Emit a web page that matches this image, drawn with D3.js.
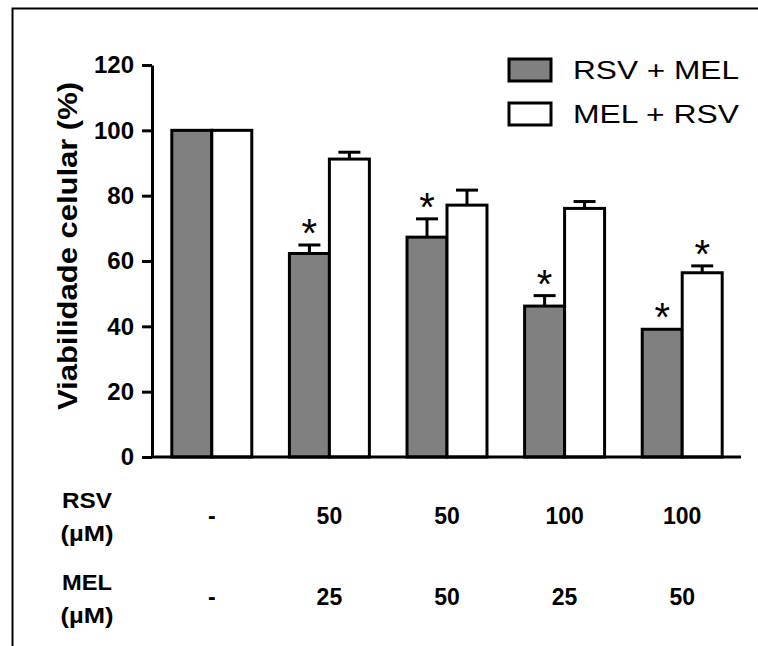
<!DOCTYPE html>
<html lang="pt">
<head>
	<meta charset="utf-8">
	<title>Viabilidade celular</title>
	<script src="https://cdn.jsdelivr.net/npm/d3@7"></script>
	<style>
		body { margin: 0; background: #fff; }
		svg { display: block; }
	</style>
</head>
<body>
<script>

// Chart data
var categories = ["ctrl", "r50m25", "r50m50", "r100m25", "r100m50"];
var rsvDose = ["-", "50", "50", "100", "100"];
var melDose = ["-", "25", "50", "25", "50"];
var seriesNames = ["RSV + MEL", "MEL + RSV"];
var rsvMel = [100, 62.3, 67.3, 46.2, 39.1];
var rsvMelErr = [0, 2.6, 5.6, 3.2, 0];
var rsvMelSig = [false, true, true, true, true];
var melRsv = [100, 91.2, 77.1, 76.1, 56.4];
var melRsvErr = [0, 2.1, 4.6, 2.1, 2.1];
var melRsvSig = [false, false, false, false, true];
var yTicks = [0, 20, 40, 60, 80, 100, 120];
var seriesFill = ["#808080", "#ffffff"];

var width = 758, height = 646;
var font = "Arial, 'Liberation Sans', sans-serif";

var svg = d3.select("body")
			.append("svg")
			.attr("width", width)
			.attr("height", height);

// frame (top and left only)
svg.append("path")
	.attr("d", "M12.5,646V8.5H758")
	.attr("fill", "none")
	.attr("stroke", "#000")
	.attr("stroke-width", 2);

// scales
var yScale = d3.scaleLinear()
				.domain([0, 120])
				.range([457, 65]);

var xScale = d3.scaleBand()
				.domain(categories)
				.range([153, 741])
				.paddingInner(0.32)
				.paddingOuter(0.16);

var xSub = d3.scaleBand()
				.domain([0, 1])
				.range([0, xScale.bandwidth()]);

// table of rows for bars
var rows = [];
categories.forEach(function(c, i) {
	rows.push({cat: c, s: 0, v: rsvMel[i], e: rsvMelErr[i], sig: rsvMelSig[i]});
	rows.push({cat: c, s: 1, v: melRsv[i], e: melRsvErr[i], sig: melRsvSig[i]});
});

// y axis
var yAxis = d3.axisLeft(yScale)
				.tickValues(yTicks)
				.tickSize(10)
				.tickSizeOuter(0)
				.tickPadding(8);

var gy = svg.append("g")
	.attr("transform", "translate(152,0)")
	.call(yAxis);
gy.select(".domain").attr("stroke-width", 3);
gy.selectAll(".tick line").attr("stroke-width", 3);
gy.selectAll(".tick text")
	.attr("font-family", font)
	.attr("font-size", 24)
	.attr("font-weight", "bold")
	.attr("fill", "#000");

// y axis title
svg.append("text")
	.attr("transform", "translate(77,246) rotate(-90)")
	.attr("text-anchor", "middle")
	.attr("font-family", font)
	.attr("font-size", 27)
	.attr("font-weight", "bold")
	.attr("textLength", 328)
	.attr("lengthAdjust", "spacingAndGlyphs")
	.text("Viabilidade celular (%)");

// error bars
var err = svg.append("g");
rows.filter(function(d) { return d.e > 0; }).forEach(function(d) {
	var cx = xScale(d.cat) + xSub(d.s) + xSub.bandwidth() / 2;
	err.append("line")
		.attr("x1", cx).attr("x2", cx)
		.attr("y1", yScale(d.v)).attr("y2", yScale(d.v + d.e))
		.attr("stroke", "#000").attr("stroke-width", 3);
	err.append("line")
		.attr("x1", cx - 11).attr("x2", cx + 11)
		.attr("y1", yScale(d.v + d.e)).attr("y2", yScale(d.v + d.e))
		.attr("stroke", "#000").attr("stroke-width", 3);
});

// bars
svg.append("g")
	.selectAll("rect")
	.data(rows)
	.enter()
		.append("rect")
		.attr("x", function(d) { return xScale(d.cat) + xSub(d.s); })
		.attr("y", function(d) { return yScale(d.v); })
		.attr("width", xSub.bandwidth())
		.attr("height", function(d) { return yScale(0) - yScale(d.v); })
		.attr("fill", function(d) { return seriesFill[d.s]; })
		.attr("stroke", "#000")
		.attr("stroke-width", 3);

// significance asterisks
svg.append("g")
	.selectAll("text")
	.data(rows.filter(function(d) { return d.sig; }))
	.enter()
		.append("text")
		.attr("x", function(d) { return xScale(d.cat) + xSub(d.s) + xSub.bandwidth() / 2; })
		.attr("y", function(d) { return yScale(d.v + d.e) + 2; })
		.attr("text-anchor", "middle")
		.attr("font-family", font)
		.attr("font-size", 40)
		.text("*");

// x axis line
svg.append("line")
	.attr("x1", 152).attr("x2", 741)
	.attr("y1", yScale(0)).attr("y2", yScale(0))
	.attr("stroke", "#000")
	.attr("stroke-width", 3);

// legend
var legend = svg.append("g");
seriesNames.forEach(function(name, i) {
	var ly = 70 + i * 44;
	legend.append("rect")
		.attr("x", 509).attr("y", ly - 11)
		.attr("width", 42).attr("height", 22)
		.attr("fill", seriesFill[i])
		.attr("stroke", "#000")
		.attr("stroke-width", 3);
	legend.append("text")
		.attr("x", 573).attr("y", ly + 9)
		.attr("font-family", font)
		.attr("font-size", 25)
		.attr("textLength", 166)
		.attr("lengthAdjust", "spacingAndGlyphs")
		.text(name);
});

// dose table under the chart
function rowLabel(txt, y, len) {
	svg.append("text")
		.attr("x", 87).attr("y", y)
		.attr("text-anchor", "middle")
		.attr("font-family", font).attr("font-size", 22).attr("font-weight", "bold")
		.attr("textLength", len)
		.attr("lengthAdjust", "spacingAndGlyphs")
		.text(txt);
}
function doseRow(label, values, labelY, valueY) {
	rowLabel(label, labelY, 50);
	rowLabel("(\u00b5M)", labelY + 33, 53);
	svg.append("g")
		.selectAll("text")
		.data(values)
		.enter()
			.append("text")
			.attr("x", function(d, i) { return xScale(categories[i]) + xScale.bandwidth() / 2; })
			.attr("y", valueY)
			.attr("text-anchor", "middle")
			.attr("font-family", font).attr("font-size", 23).attr("font-weight", "bold")
			.text(function(d) { return d; });
}
doseRow("RSV", rsvDose, 508, 524);
doseRow("MEL", melDose, 590, 605);

</script>
</body>
</html>
